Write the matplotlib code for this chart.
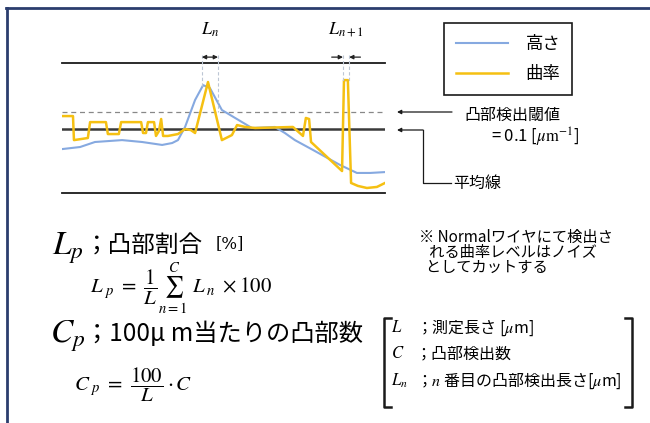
import matplotlib
matplotlib.use('Agg')
import matplotlib.pyplot as plt

plt.rcParams['font.family'] = ['Noto Sans CJK JP', 'DejaVu Sans']
plt.rcParams['mathtext.fontset'] = 'stix'

#%% data (position 0-100, values scaled so mean line = 0, threshold = 0.1)

height_pos = [0, 5.6, 10.2, 18.6, 24.8, 31.0, 34.1, 35.9, 38.1, 41.2, 43.7, 45.8,
              49.5, 53.6, 58.8, 65.9, 69.0, 72.1, 77.7, 86.1, 91.3, 95.4, 100]
height_val = [-0.116, -0.104, -0.075, -0.064, -0.075, -0.092, -0.081, -0.064, 0.012,
              0.168, 0.254, 0.237, 0.110, 0.064, 0.006, 0.012, -0.023, -0.064,
              -0.121, -0.208, -0.254, -0.254, -0.249]

curv_pos = [0, 3.4, 3.7, 8.0, 8.7, 13.6, 14.2, 17.6, 18.3, 24.5, 25.1, 26.0, 26.6,
            28.5, 29.1, 30.0, 30.7, 31.3, 32.8, 35.9, 38.1, 39.9, 41.2, 45.2, 49.5,
            52.6, 54.2, 56.7, 59.8, 71.5, 74.6, 75.5, 76.5, 77.1, 86.7, 87.3, 88.5,
            89.5, 91.6, 94.4, 97.5, 100]
curv_val = [0.075, 0.075, -0.064, -0.052, 0.040, 0.040, -0.029, -0.029, 0.040, 0.040,
            -0.023, -0.023, 0.040, 0.040, -0.040, -0.012, 0.058, -0.040, -0.040,
            -0.029, 0.0, -0.006, -0.023, 0.272, -0.064, -0.035, 0.023, 0.012, 0.006,
            0.012, -0.040, 0.064, 0.058, -0.075, -0.243, 0.283, 0.283, -0.312,
            -0.329, -0.341, -0.335, -0.312]

threshold = 0.1
mean_level = 0.0
y_top, y_bottom = 0.382, -0.370

# detected convex parts: (start, end, where each guide line stops)
spans = [(43.3, 48.3, 0.24, 0.10), (87.0, 88.9, 0.28, 0.28)]
span_labels = [r'$L_n$', r'$L_{n+1}$']

legend_labels = ['高さ', '曲率']

blue = '#86a9e0'
yellow = '#f5c012'

#%%

fig = plt.figure(figsize=(6.5, 4.23), dpi=100)
fig.patch.set_facecolor('white')

# overlay in pixel coordinates for text and annotations
ov = fig.add_axes([0, 0, 1, 1])
ov.set_xlim(0, 650)
ov.set_ylim(423, 0)
ov.axis('off')

ax = fig.add_axes([62/650, 1-193/423, 323/650, 130/423])
ax.set_xlim(0, 100)
ax.set_ylim(y_bottom, y_top)
ax.axis('off')

ax.axhline(y_top, color='#1a1a1a', lw=1.3, clip_on=False)
ax.axhline(y_bottom, color='#1a1a1a', lw=1.3, clip_on=False)
ax.axhline(mean_level, color='#3a3a3a', lw=1.8)
ax.axhline(threshold, color='#888888', lw=0.9, ls=(0, (4, 3)))

l1, = ax.plot(height_pos, height_val, color=blue, lw=1.5, label=legend_labels[0])
l2, = ax.plot(curv_pos, curv_val, color=yellow, lw=1.8, label=legend_labels[1])

for k, (a, b, va, vb) in enumerate(spans):
    ax.plot([a, a], [0.43, va], color='#bcc6d4', lw=0.8, ls=(0, (3, 2)), clip_on=False)
    ax.plot([b, b], [0.43, vb], color='#bcc6d4', lw=0.8, ls=(0, (3, 2)), clip_on=False)
    ax.text((a+b)/2, 0.575, span_labels[k], ha='center', va='center', fontsize=13,
            clip_on=False)
    if k == 0:
        ax.annotate('', xy=(a, 0.416), xytext=(b, 0.416), annotation_clip=False,
                    arrowprops=dict(arrowstyle='<|-|>', color='#222222', lw=0.9,
                                    mutation_scale=6, shrinkA=0, shrinkB=0))
    else:
        ax.annotate('', xy=(a, 0.416), xytext=(a-3.5, 0.416), annotation_clip=False,
                    arrowprops=dict(arrowstyle='-|>', color='#222222', lw=0.9,
                                    mutation_scale=6, shrinkA=0, shrinkB=0))
        ax.annotate('', xy=(b, 0.416), xytext=(b+3.5, 0.416), annotation_clip=False,
                    arrowprops=dict(arrowstyle='-|>', color='#222222', lw=0.9,
                                    mutation_scale=6, shrinkA=0, shrinkB=0))

leg = ax.legend(handles=[l1, l2], loc='upper left', bbox_to_anchor=(444/650, 1-23/423),
                bbox_transform=fig.transFigure, fontsize=12.5, frameon=True, fancybox=False,
                edgecolor='#1a1a1a', framealpha=1, handlelength=3.0, handletextpad=1.0,
                labelspacing=0.7, borderpad=0.7, borderaxespad=0)
leg.get_frame().set_linewidth(1.2)

# frame of the slide
ov.plot([6.5, 6.5], [8, 423], color='#2b3d6e', lw=2)
ov.plot([6, 650], [8, 8], color='#2b3d6e', lw=2)

# threshold / mean line annotations
arrow_kw = dict(arrowstyle='-|>', color='#1a1a1a', lw=0.9, mutation_scale=6,
                shrinkA=0, shrinkB=0)
ov.annotate('', xy=(397, 112), xytext=(452, 112), arrowprops=arrow_kw)
ov.annotate('', xy=(397, 130), xytext=(423, 130), arrowprops=arrow_kw)
ov.plot([423, 423, 451], [130, 183, 183], color='#1a1a1a', lw=0.9)
ov.text(464, 115, '凸部検出閾値', fontsize=11.5, va='center', ha='left')
ov.text(491, 137, r'= 0.1 [$\mu\mathrm{m}^{-1}$]', fontsize=12, va='center', ha='left')
ov.text(453, 183, '平均線', fontsize=11.5, va='center', ha='left')

# definitions
ov.text(52, 255, r'$L_p$', fontsize=24, va='baseline', ha='left')
ov.text(85, 246, '；凸部割合', fontsize=17, va='center', ha='left')
ov.text(216, 244, '[%]', fontsize=12, va='center', ha='left', family='DejaVu Serif')
ov.text(90, 289, r'$L_{\ p}\ =\ \dfrac{1}{L}\sum_{n=1}^{C}\ L_{\;n}\ \times 100$',
        fontsize=15, va='center', ha='left')

ov.text(50, 343, r'$C_p$', fontsize=24, va='baseline', ha='left')
ov.text(85, 334, '；100μ m当たりの凸部数', fontsize=17.5, va='center', ha='left')
ov.text(74, 385, r'$C_{\ p}\ =\ \dfrac{100}{L}\cdot C$', fontsize=15,
        va='center', ha='left')

ov.text(419, 252, '※ Normalワイヤにて検出さ\n   れる曲率レベルはノイズ\n  としてカットする',
        fontsize=11, va='center', ha='left', linespacing=0.85)

# bracketed legend of symbols
ov.plot([391, 384, 384, 391], [318, 318, 407, 407], color='#1a1a1a', lw=1.8)
ov.plot([625, 632, 632, 625], [318, 318, 407, 407], color='#1a1a1a', lw=1.8)
ov.text(391, 328, r'$L$', fontsize=12, va='center', ha='left')
ov.text(416, 328, r'；測定長さ [$\mu$m]', fontsize=11.5, va='center', ha='left')
ov.text(391, 354, r'$C$', fontsize=12, va='center', ha='left')
ov.text(416, 354, '；凸部検出数', fontsize=11.5, va='center', ha='left')
ov.text(391, 381, r'$L_n$', fontsize=12, va='center', ha='left')
ov.text(416, 381, r'；$n$ 番目の凸部検出長さ[$\mu$m]', fontsize=11.5, va='center',
        ha='left')

fig.savefig('out.png', dpi=100, facecolor='white')
